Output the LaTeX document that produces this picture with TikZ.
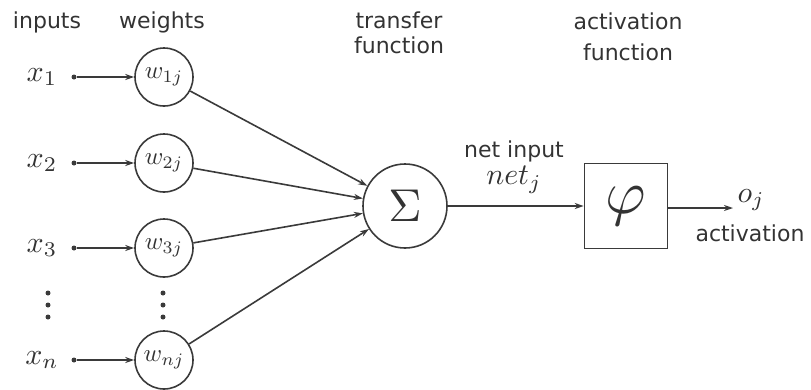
\documentclass[tikz,border=0pt]{standalone}
\usepackage{fontspec}
\setmainfont{DejaVu Sans}
\usetikzlibrary{arrows.meta}
\definecolor{ln}{HTML}{3A3A3A}
\definecolor{tx}{HTML}{333333}
\tikzset{
  lbl/.style={text=tx, font=\fontsize{22}{25}\selectfont, inner sep=0pt, align=center},
  mlbl/.style={text=tx, scale=3, inner sep=0pt},
  wlbl/.style={text=tx, scale=2.5, inner sep=0pt},
  wnode/.style={circle, draw=ln, line width=1.6pt, minimum size=58pt, inner sep=0pt},
  src/.style={circle, fill=ln, inner sep=0pt, minimum size=5pt},
  arr/.style={draw=ln, line width=1.6pt, -{Stealth[length=9pt,width=6pt]}},
  vdot/.style={circle, fill=ln, inner sep=0pt, minimum size=5pt}
}
\begin{document}
\begin{tikzpicture}[x=1pt,y=-1pt]
\useasboundingbox (0,0) rectangle (811,389);
% headings
\node[lbl] (hin) at (47,22) {inputs};
\node[lbl] (hw) at (162,22) {weights};
\node[lbl] (htf) at (399,33) {transfer\\function};
\node[lbl, align=center, text width=130pt] (haf) at (628,37) {activation\\[6pt]function};
% inputs
\foreach \i/\y/\lab/\wl in {1/77/x_1/w_{1j}, 2/163/x_2/w_{2j}, 3/248/x_3/w_{3j}, n/360/x_n/w_{nj}}{
  \node[mlbl] (x\i) at (42,\y) {$\lab$};
  \node[src] (s\i) at (74,\y) {};
  \node[wnode] (w\i) at (164,\y) {};
  \node[wlbl] (wl\i) at (w\i.center) {$\wl$};
  \draw[arr] (s\i) -- (w\i);
}
% vertical dots
\foreach \yy [count=\k] in {293,305,317}{
  \node[vdot] (dx\k) at (48,\yy) {};
  \node[vdot] (dw\k) at (163,\yy) {};
}
% sum node
\node[circle, draw=ln, line width=1.6pt, minimum size=84pt, inner sep=0pt] (sum) at (405,206) {};
\node[text=tx, scale=4.6, inner sep=0pt] (sig) at (sum.center) {$\Sigma$};
\foreach \i in {1,2,3,n}{ \draw[arr] (w\i) -- (sum); }
% activation box
\node[rectangle, draw=ln, line width=1.6pt, minimum width=83pt, minimum height=85pt, inner sep=0pt] (phi) at (626,206) {};
\node[text=tx, scale=6.2, inner sep=0pt] (phis) at (phi.center) {$\varphi$};
\draw[arr] (sum) -- (phi);
\node[lbl] (ni) at (514,151) {net input};
\node[mlbl] (netj) at (514,180) {$net_j$};
% output
\coordinate (out) at (733,208);
\draw[arr] (phi.east |- out) -- (out);
\node[mlbl, anchor=west] (oj) at (737,200) {$o_j$};
\node[lbl] (act) at (750,233) {activation};
\end{tikzpicture}
\end{document}
